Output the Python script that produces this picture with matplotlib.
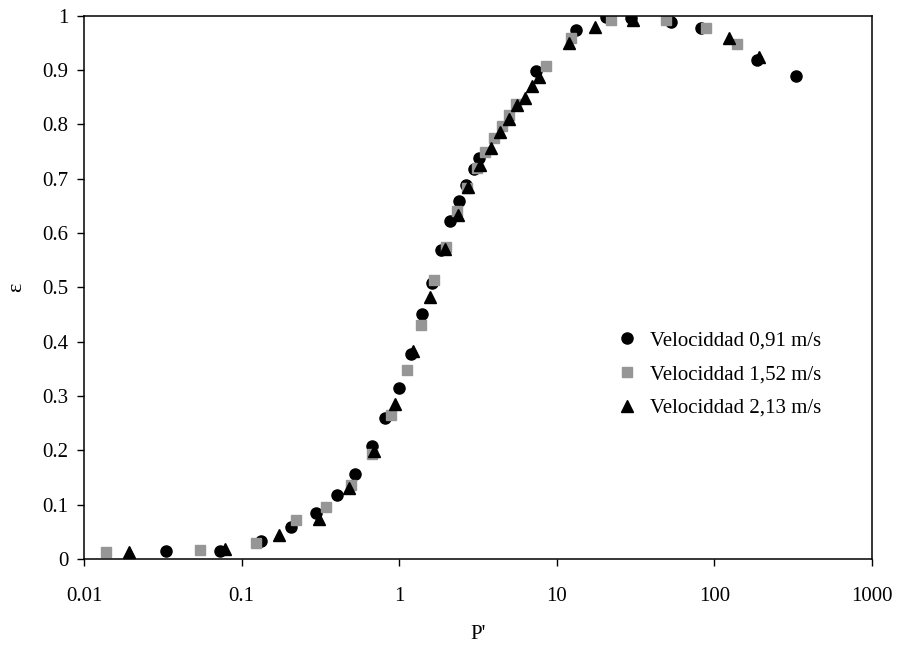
import matplotlib.pyplot as plt
from matplotlib.ticker import FixedLocator, FixedFormatter, NullLocator

# Velocidad 0,91 m/s
p_091 = [0.033, 0.0733, 0.133, 0.206, 0.296, 0.401, 0.527, 0.669, 0.816, 0.997,
         1.188, 1.395, 1.608, 1.842, 2.10, 2.385, 2.654, 2.995, 3.22, 7.35,
         13.2, 20.5, 29.6, 52.8, 82.2, 185, 329.5]
e_091 = [0.015, 0.015, 0.033, 0.058, 0.084, 0.118, 0.156, 0.2085, 0.259, 0.315,
         0.378, 0.450, 0.508, 0.5685, 0.6225, 0.659, 0.689, 0.7176, 0.738, 0.898,
         0.973, 0.998, 0.996, 0.9886, 0.9764, 0.919, 0.8887]

# Velocidad 1,52 m/s
p_152 = [0.0138, 0.0547, 0.123, 0.220, 0.343, 0.494, 0.675, 0.887, 1.116, 1.381,
         1.663, 1.98, 2.34, 2.70, 3.10, 3.49, 4.0, 4.49, 5.0, 5.5,
         8.54, 12.3, 22.0, 49.3, 88.5, 138.5]
e_152 = [0.013, 0.017, 0.029, 0.072, 0.096, 0.136, 0.193, 0.265, 0.348, 0.4305,
         0.513, 0.5746, 0.640, 0.683, 0.720, 0.749, 0.775, 0.797, 0.817, 0.837,
         0.9077, 0.959, 0.992, 0.992, 0.9776, 0.9476]

# Velocidad 2,13 m/s
p_213 = [0.0194, 0.0785, 0.173, 0.308, 0.482, 0.692, 0.945, 1.229, 1.568, 1.953,
         2.35, 2.745, 3.256, 3.81, 4.36, 4.95, 5.57, 6.28, 6.99, 7.71,
         12.0, 17.4, 30.6, 124.3, 192.6]
e_213 = [0.013, 0.018, 0.045, 0.074, 0.130, 0.199, 0.285, 0.383, 0.4815, 0.570,
         0.634, 0.684, 0.726, 0.757, 0.785, 0.8096, 0.835, 0.8476, 0.871, 0.887,
         0.9488, 0.979, 0.992, 0.959, 0.924]

x_ticks = [0.01, 0.1, 1, 10, 100, 1000]
x_labels = ['0.01', '0.1', '1', '10', '100', '1000']
y_ticks = [0, 0.1, 0.2, 0.3, 0.4, 0.5, 0.6, 0.7, 0.8, 0.9, 1]
y_labels = ['0', '0.1', '0.2', '0.3', '0.4', '0.5', '0.6', '0.7', '0.8', '0.9', '1']

plt.rcParams['font.family'] = ['Liberation Serif', 'DejaVu Serif']

fig = plt.figure(figsize=(8.99, 6.51), dpi=100)
ax = fig.add_axes([0.0934, 0.1413, 0.8766, 0.8347])

ax.plot(p_091, e_091, linestyle='none', marker='o', color='black',
        markersize=8, label='Velociddad 0,91 m/s')
ax.plot(p_152, e_152, linestyle='none', marker='s', color='#969696',
        markersize=7.5, label='Velociddad 1,52 m/s')
ax.plot(p_213, e_213, linestyle='none', marker='^', color='black',
        markersize=8, label='Velociddad 2,13 m/s')

ax.set_xscale('log')
ax.set_xlim(0.01, 1000)
ax.set_ylim(0, 1)
ax.xaxis.set_major_locator(FixedLocator(x_ticks))
ax.xaxis.set_major_formatter(FixedFormatter(x_labels))
ax.xaxis.set_minor_locator(NullLocator())
ax.yaxis.set_major_locator(FixedLocator(y_ticks))
ax.yaxis.set_major_formatter(FixedFormatter(y_labels))

ax.tick_params(direction='out', length=5, width=1, labelsize=15, pad=6)
ax.tick_params(axis='x', pad=15)
for s in ax.spines.values():
    s.set_linewidth(1.1)

ax.set_xlabel("P'", fontsize=15, labelpad=14)
ax.set_ylabel('ε', fontsize=16, labelpad=12)

ax.legend(loc='center left', bbox_to_anchor=(0.652, 0.34), frameon=False,
          fontsize=15, handletextpad=0.1, labelspacing=0.69, borderaxespad=0)

fig.savefig('out.png', dpi=100)
